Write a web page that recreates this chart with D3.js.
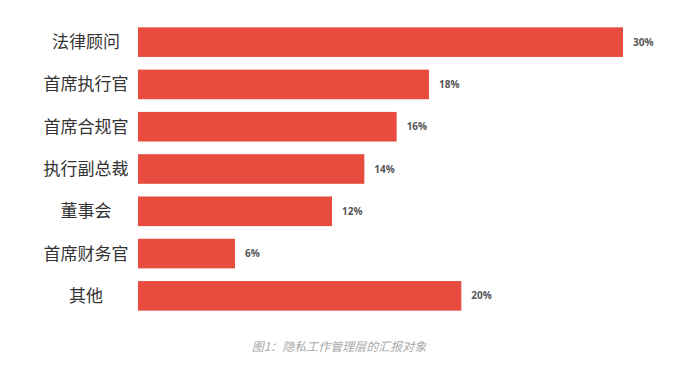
<!DOCTYPE html>
<html><head><meta charset="utf-8">
<script src="https://cdn.jsdelivr.net/npm/d3@7"></script>
<style>body{margin:0;background:#fff;}svg{display:block;}</style>
</head><body>
<script>
const categories = ["法律顾问","首席执行官","首席合规官","执行副总裁","董事会","首席财务官","其他"];
const values = [30,18,16,14,12,6,20];
const valueLabels = ["30%","18%","16%","14%","12%","6%","20%"];
const caption = "图1：隐私工作管理层的汇报对象";

const W=682,H=375;
const svg=d3.select("body").append("svg").attr("width",W).attr("height",H);
const x=d3.scaleLinear().domain([0,30]).range([138,623]);
const y=d3.scaleBand().domain(categories).range([21,317]).paddingInner(0.3).paddingOuter(0.15);

svg.selectAll("rect.bar").data(values).join("rect").attr("class","bar")
  .attr("x",x(0)).attr("y",(d,i)=>y(categories[i]))
  .attr("width",d=>x(d)-x(0)).attr("height",y.bandwidth())
  .attr("fill","#e74c3f");

svg.selectAll("text.cat").data(categories).join("text").attr("class","cat")
  .attr("x",86).attr("y",d=>y(d)+y.bandwidth()/2).attr("dy","0.35em")
  .attr("text-anchor","middle").attr("font-family","Noto Sans CJK SC")
  .attr("font-size",17).attr("fill","#333").text(d=>d);

svg.selectAll("text.val").data(values).join("text").attr("class","val")
  .attr("x",d=>x(d)+10).attr("y",(d,i)=>y(categories[i])+y.bandwidth()/2).attr("dy","0.35em")
  .attr("font-family","Open Sans, sans-serif").attr("font-weight","bold")
  .attr("font-size",10).attr("fill","#555").text((d,i)=>valueLabels[i]);

svg.append("text").attr("x",339).attr("y",351).attr("text-anchor","middle")
  .attr("font-family","Noto Sans CJK SC").attr("font-style","italic")
  .attr("font-size",12).attr("fill","#aaa").text(caption);
</script>
</body></html>
